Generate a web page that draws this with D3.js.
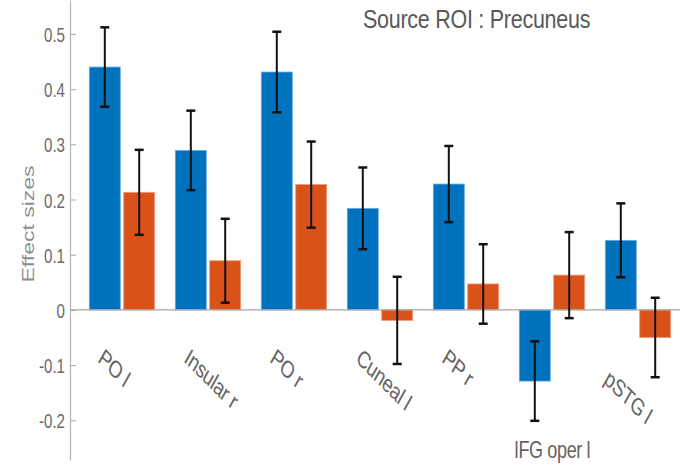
<!DOCTYPE html>
<html>
  <head>
    <meta charset="utf-8">
    <title>Effect sizes - Precuneus</title>
    <script src="https://d3js.org/d3.v7.min.js"></script>
    <style>
      body { margin: 0; background: #fff; }
      text { font-family: "Liberation Sans", Arial, sans-serif; }
    </style>
  </head>
  <body>
    <script>

      // values
      var regions = ["PO l", "Insular r", "PO r", "Cuneal l", "PP r", "IFG oper l", "pSTG l"];
      var seriesNames = ["blue", "orange"];
      var blueVals = [0.440, 0.289, 0.431, 0.184, 0.228, -0.129, 0.126];
      var blueErr = [0.072, 0.072, 0.073, 0.074, 0.069, 0.072, 0.067];
      var orangeVals = [0.213, 0.089, 0.227, -0.019, 0.047, 0.063, -0.050];
      var orangeErr = [0.077, 0.076, 0.078, 0.079, 0.072, 0.078, 0.072];
      var yTicks = [-0.2, -0.1, 0, 0.1, 0.2, 0.3, 0.4, 0.5];
      var yLimits = [-0.272, 0.5615];

      var W = 680, H = 469;
      var sx = 0.75; // the picture is squeezed sideways, text too

      var svg = d3.select("body").append("svg")
                  .attr("width", W)
                  .attr("height", H);

      var x = d3.scaleBand().domain(regions).range([79, 681])
                .paddingInner(0.24).paddingOuter(0.12);
      var xSub = d3.scaleBand().domain(seriesNames).range([0, x.bandwidth()]).paddingInner(0.1);
      var y = d3.scaleLinear().domain(yLimits).range([460, 0]);

      var colors = { blue: "#0072BD", orange: "#D95319" };
      var edges = { blue: "#6aa9dc", orange: "#ea9a78" };

      var rows = [];
      regions.forEach(function(r, i) {
        rows.push({ region: r, s: "blue", v: blueVals[i], e: blueErr[i] });
        rows.push({ region: r, s: "orange", v: orangeVals[i], e: orangeErr[i] });
      });

      // plain hyphen for negatives, like matlab
      var fmt = function(d) { return d === 0 ? "0" : d.toFixed(1); };

      // y axis, ticks pointing in
      var yAxis = d3.axisLeft(y).tickValues(yTicks).tickSizeInner(-6).tickSizeOuter(0).tickFormat(fmt);
      var gy = svg.append("g").attr("transform", "translate(70,0)").call(yAxis);
      gy.select(".domain").attr("stroke", "#b4b4b4").attr("stroke-width", 1.2);
      gy.selectAll(".tick line").attr("stroke", "#b4b4b4").attr("stroke-width", 1.2);
      gy.selectAll(".tick text").remove();
      gy.selectAll(".tick").append("text")
        .attr("transform", "translate(-5,0) scale(0.72,1)")
        .attr("text-anchor", "end")
        .attr("dy", "0.36em")
        .attr("font-size", 21)
        .attr("fill", "#6b6b6b")
        .text(fmt);

      // bars
      svg.append("g").selectAll("rect")
        .data(rows)
        .enter()
        .append("rect")
        .attr("x", function(d) { return x(d.region) + xSub(d.s); })
        .attr("width", xSub.bandwidth())
        .attr("y", function(d) { return y(Math.max(0, d.v)); })
        .attr("height", function(d) { return Math.abs(y(d.v) - y(0)); })
        .attr("fill", function(d) { return colors[d.s]; })
        .attr("stroke", function(d) { return edges[d.s]; })
        .attr("stroke-width", 0.8);

      // zero line
      svg.append("line")
        .attr("x1", 70).attr("x2", W)
        .attr("y1", y(0)).attr("y2", y(0))
        .attr("stroke", "#aaaaaa").attr("stroke-width", 1.3);

      // error bars
      var eb = svg.append("g").selectAll("g")
        .data(rows)
        .enter()
        .append("g")
        .attr("transform", function(d) {
          return "translate(" + (x(d.region) + xSub(d.s) + xSub.bandwidth() / 2) + ",0)";
        })
        .attr("stroke", "#111")
        .attr("stroke-width", 2);
      eb.append("line")
        .attr("y1", function(d) { return y(d.v + d.e); })
        .attr("y2", function(d) { return y(d.v - d.e); });
      eb.append("line")
        .attr("x1", -4.5).attr("x2", 4.5)
        .attr("y1", function(d) { return y(d.v + d.e); })
        .attr("y2", function(d) { return y(d.v + d.e); })
        .attr("stroke-width", 2.5);
      eb.append("line")
        .attr("x1", -4.5).attr("x2", 4.5)
        .attr("y1", function(d) { return y(d.v - d.e); })
        .attr("y2", function(d) { return y(d.v - d.e); })
        .attr("stroke-width", 2.5);

      // region labels, rotated; two were moved by hand in the original
      var flat = "IFG oper l";
      var nudged = { "pSTG l": [-10, 21] };
      svg.append("g").selectAll("text")
        .data(regions)
        .enter()
        .append("text")
        .attr("font-size", 24)
        .attr("fill", "#636363")
        .attr("letter-spacing", -0.5)
        .attr("text-anchor", function(d) { return d === flat ? "middle" : "start"; })
        .attr("transform", function(d) {
          var cx = x(d) + x.bandwidth() / 2;
          if (d === flat) return "translate(" + cx + ",458) scale(" + sx + ",1)";
          var n = nudged[d] || [0, 0];
          return "translate(" + (cx - 25 + n[0]) + "," + (361 + n[1]) + ") scale(" + sx + ",1) rotate(36.9)";
        })
        .text(function(d) { return d; });

      // y label
      svg.append("text")
        .attr("transform", "translate(34,224) scale(" + sx + ",1) rotate(-90)")
        .attr("text-anchor", "middle")
        .attr("font-size", 23)
        .attr("fill", "#8e8e8e")
        .text("Effect sizes");

      // title
      svg.append("text")
        .attr("transform", "translate(363,28) scale(0.86,1)")
        .attr("font-size", 25)
        .attr("letter-spacing", -0.3)
        .attr("fill", "#595959")
        .text("Source ROI : Precuneus");

    </script>
  </body>
</html>
